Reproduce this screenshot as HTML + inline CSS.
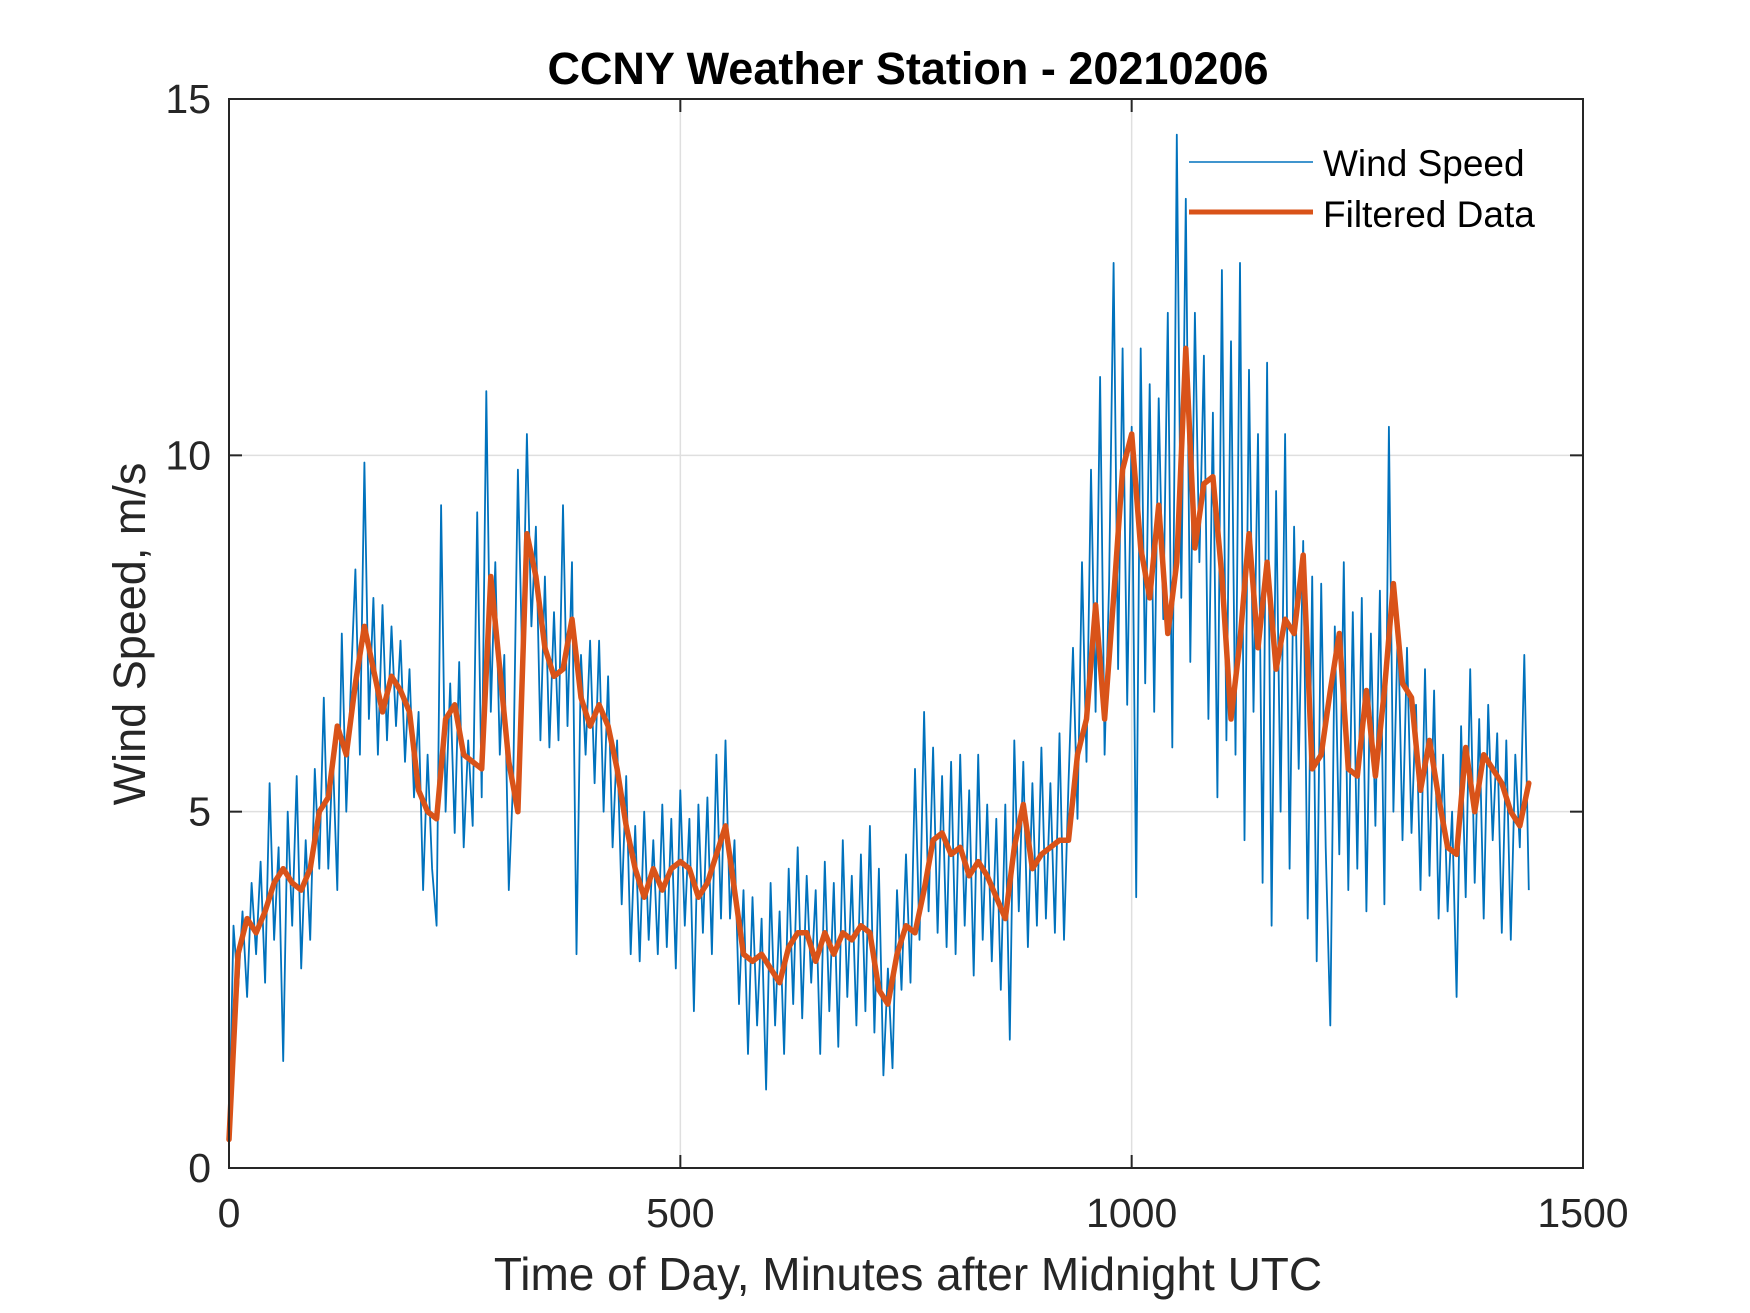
<!DOCTYPE html>
<html><head><meta charset="utf-8"><style>
html,body{margin:0;padding:0;background:#fff;}
svg{display:block;font-family:"Liberation Sans",Arial,sans-serif;}
</style></head><body>
<svg id="chart" width="1750" height="1313" viewBox="0 0 1750 1313">
<rect x="0" y="0" width="1750" height="1313" fill="#fff"/>
<g id="grid"></g>
<g id="series"></g>
<rect x="229" y="99" width="1354" height="1069" fill="none" stroke="#262626" stroke-width="2"/>
<g id="ticks"></g>
<text x="908" y="84" font-size="45" font-weight="bold" text-anchor="middle" fill="#000">CCNY Weather Station - 20210206</text>
<text x="908" y="1290" font-size="46" text-anchor="middle" fill="#262626">Time of Day, Minutes after Midnight UTC</text>
<text transform="translate(145,634) rotate(-90)" font-size="45" text-anchor="middle" fill="#262626">Wind Speed, m/s</text>
<g>
<line x1="1189" y1="162" x2="1313" y2="162" stroke="#0072BD" stroke-width="1.5"/>
<text x="1323" y="176" font-size="37" fill="#000">Wind Speed</text>
<line x1="1189" y1="212" x2="1313" y2="212" stroke="#D95319" stroke-width="5"/>
<text x="1323" y="227" font-size="37" fill="#000">Filtered Data</text>
</g>
</svg>
<script>
const xTicks=[0,500,1000,1500];
const yTicks=[0,5,10,15];
const rawStep=5;
const windSpeed=[0.4,3.4,2.5,3.6,2.4,4.0,3.0,4.3,2.6,5.4,3.2,
4.5,1.5,5.0,3.4,5.5,2.8,4.6,3.2,5.6,4.2,
6.6,4.2,5.8,3.9,7.5,5.0,6.8,8.4,5.8,9.9,
6.3,8.0,5.8,7.9,6.0,7.6,6.2,7.4,5.7,7.0,
5.2,6.4,3.9,5.8,4.2,3.4,9.3,5.0,6.8,4.7,
7.1,4.5,6.0,4.8,9.2,5.2,10.9,6.4,8.5,5.8,
7.2,3.9,5.5,9.8,7.0,10.3,7.6,9.0,6.0,8.3,
5.9,7.8,6.0,9.3,6.2,8.5,3.0,7.2,5.8,7.4,
5.4,7.4,5.0,6.9,4.5,6.0,3.7,5.5,3.0,4.8,
2.9,5.0,3.2,4.6,3.0,5.1,3.1,4.9,2.8,5.3,
3.4,4.9,2.2,5.1,3.3,5.2,3.0,5.8,3.5,6.0,
3.5,4.6,2.3,3.9,1.6,3.8,2.0,3.5,1.1,4.0,
2.0,3.6,1.6,4.2,2.3,4.5,2.1,4.1,2.6,3.9,
1.6,4.3,2.2,4.0,1.7,4.6,2.4,4.1,2.0,4.4,
2.2,4.8,1.9,4.2,1.3,2.8,1.4,3.9,2.5,4.4,
2.6,5.6,3.2,6.4,3.6,5.9,3.3,5.5,3.1,5.7,
3.0,5.8,3.4,5.3,2.7,5.8,3.2,5.1,2.9,4.9,
2.5,5.1,1.8,6.0,3.6,5.7,3.1,5.4,3.4,5.9,
3.5,5.4,3.3,6.1,3.2,5.4,7.3,4.9,8.5,5.7,
9.8,6.4,11.1,5.8,8.2,12.7,7.0,11.5,6.5,10.4,
3.8,11.5,6.8,11.0,6.4,10.8,7.7,12.0,5.9,14.5,
8.0,13.6,7.1,12.0,8.5,11.4,6.3,10.6,5.2,12.6,
6.0,11.6,5.8,12.7,4.6,11.2,6.4,10.3,4.0,11.3,
3.4,9.5,5.0,10.3,4.2,9.0,5.6,8.8,3.5,8.3,
2.9,8.2,4.5,2.0,7.6,4.4,8.5,3.9,7.8,4.2,
8.0,3.6,7.5,4.8,8.1,3.7,10.4,5.0,7.7,4.6,
7.3,4.7,6.5,3.9,7.0,4.1,6.7,3.5,5.8,3.6,
5.0,2.4,6.2,3.8,7.0,4.0,6.3,3.5,6.5,4.6,
6.1,3.3,6.0,3.2,5.8,4.5,7.2,3.9];
const filtStep=10;
const filtered=[0.4,3.0,3.5,3.3,3.6,4.0,4.2,4.0,3.9,4.2,
5.0,5.2,6.2,5.8,6.8,7.6,7.0,6.4,6.9,6.7,
6.4,5.3,5.0,4.9,6.3,6.5,5.8,5.7,5.6,8.3,
7.0,5.7,5.0,8.9,8.3,7.3,6.9,7.0,7.7,6.6,
6.2,6.5,6.2,5.6,4.8,4.2,3.8,4.2,3.9,4.2,
4.3,4.2,3.8,4.0,4.4,4.8,3.9,3.0,2.9,3.0,
2.8,2.6,3.1,3.3,3.3,2.9,3.3,3.0,3.3,3.2,
3.4,3.3,2.5,2.3,3.0,3.4,3.3,3.9,4.6,4.7,
4.4,4.5,4.1,4.3,4.1,3.8,3.5,4.5,5.1,4.2,
4.4,4.5,4.6,4.6,5.8,6.3,7.9,6.3,8.0,9.8,
10.3,8.7,8.0,9.3,7.5,8.5,11.5,8.7,9.6,9.7,
8.3,6.3,7.4,8.9,7.3,8.5,7.0,7.7,7.5,8.6,
5.6,5.8,6.7,7.5,5.6,5.5,6.7,5.5,6.7,8.2,
6.8,6.6,5.3,6.0,5.2,4.5,4.4,5.9,5.0,5.8,
5.6,5.4,5.0,4.8,5.4];

const L=229,R=1583,T=99,B=1168;
function xs(v){return L+(v-0)/(1500-0)*(R-L);}
function ys(v){return B-(v-0)/(15-0)*(B-T);}
const NS='http://www.w3.org/2000/svg';
const grid=document.getElementById('grid'),ticks=document.getElementById('ticks'),series=document.getElementById('series');
function mk(tag,attrs,parent){const e=document.createElementNS(NS,tag);for(const k in attrs)e.setAttribute(k,attrs[k]);parent.appendChild(e);return e;}
xTicks.forEach(t=>{
  const x=xs(t);
  if(t>0&&t<1500){const g=mk('line',{x1:x,y1:T,x2:x,y2:B,stroke:'#dfdfdf','stroke-width':1.5},grid);
  
  }
  const a=mk('line',{x1:x,y1:B,x2:x,y2:B-13,stroke:'#262626','stroke-width':2},ticks);
  
  
  const b=mk('line',{x1:x,y1:T,x2:x,y2:T+13,stroke:'#262626','stroke-width':2},ticks);
  
  
  const tx=mk('text',{x:x,y:1227,'font-size':41,'text-anchor':'middle',fill:'#262626'},ticks);
  tx.textContent=t;
  
  
});
yTicks.forEach(t=>{
  const y=ys(t);
  if(t>0&&t<15){const g=mk('line',{x1:L,y1:y,x2:R,y2:y,stroke:'#dfdfdf','stroke-width':1.5},grid);
  
  }
  const a=mk('line',{x1:L,y1:y,x2:L+13,y2:y,stroke:'#262626','stroke-width':2},ticks);
  
  
  const b=mk('line',{x1:R,y1:y,x2:R-13,y2:y,stroke:'#262626','stroke-width':2},ticks);
  
  
  const tx=mk('text',{x:211,y:y+14,'font-size':41,'text-anchor':'end',fill:'#262626'},ticks);
  tx.textContent=t;
  
  
});
const rawPts=windSpeed.map((v,i)=>xs(i*rawStep).toFixed(1)+','+ys(v).toFixed(1)).join(' ');
const raw=mk('polyline',{points:rawPts,fill:'none',stroke:'#0072BD','stroke-width':1.8,'stroke-linejoin':'round'},series);


const fPts=filtered.map((v,i)=>xs(i*filtStep).toFixed(1)+','+ys(v).toFixed(1)).join(' ');
const fl=mk('polyline',{points:fPts,fill:'none',stroke:'#D95319','stroke-width':5.5,'stroke-linejoin':'round','stroke-linecap':'round'},series);


</script>
</body></html>
